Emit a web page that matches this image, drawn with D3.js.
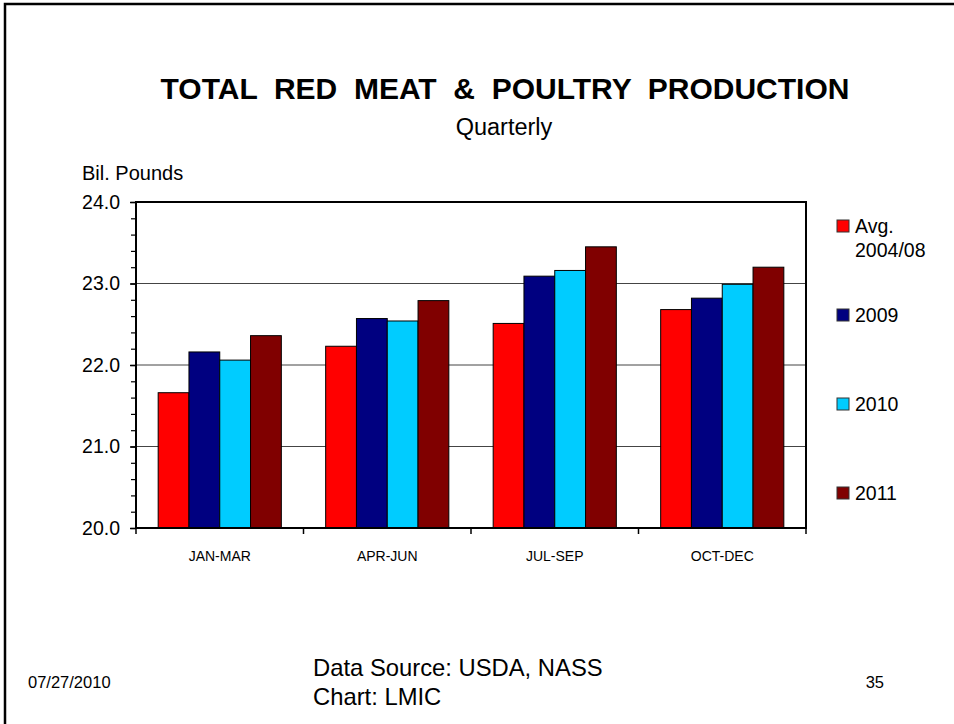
<!DOCTYPE html>
<html>
<head>
<meta charset="utf-8">
<script src="https://cdn.jsdelivr.net/npm/d3@7/dist/d3.min.js"></script>
<style>
  html, body { margin: 0; padding: 0; background: #fff; }
  svg { display: block; font-family: Arial, "Liberation Sans", sans-serif; }
</style>
</head>
<body>
<div id="chartContainer"></div>
<script>
/* quarterly red meat & poultry production chart */

const quarters = ["JAN-MAR", "APR-JUN", "JUL-SEP", "OCT-DEC"];
const seriesNames = ["Avg. 2004/08", "2009", "2010", "2011"];
const avg0408 = [21.66, 22.23, 22.51, 22.68];
const y2009 = [22.16, 22.57, 23.09, 22.82];
const y2010 = [22.06, 22.54, 23.16, 22.99];
const y2011 = [22.36, 22.79, 23.45, 23.20];
const yTicks = [20, 21, 22, 23, 24];
const seriesColors = ["#ff0000", "#000080", "#00ccff", "#800000"];

(() => {
  'use strict';

  const size = { width: 954, height: 724 };
  const margin = { top: 202, right: 148, bottom: 196, left: 136 };
  const width = size.width - margin.left - margin.right;
  const height = size.height - margin.top - margin.bottom;

  const values = [avg0408, y2009, y2010, y2011];

  const svg = d3.select("#chartContainer")
    .append("svg")
    .attr("width", size.width)
    .attr("height", size.height);

  // slide frame, runs off the right and bottom edges
  svg.append("rect")
    .attr("x", 5)
    .attr("y", 4)
    .attr("width", 1000)
    .attr("height", 800)
    .style("fill", "none")
    .style("stroke", "#000")
    .style("stroke-width", 2.5);

  svg.append("text")
    .attr("x", 505)
    .attr("y", 99)
    .attr("text-anchor", "middle")
    .attr("xml:space", "preserve")
    .style("font-size", "30px")
    .style("font-weight", "bold")
    .style("white-space", "pre")
    .text("TOTAL  RED  MEAT  &  POULTRY  PRODUCTION");

  svg.append("text")
    .attr("x", 504)
    .attr("y", 135)
    .attr("text-anchor", "middle")
    .style("font-size", "23.5px")
    .text("Quarterly");

  svg.append("text")
    .attr("x", 82)
    .attr("y", 180)
    .style("font-size", "20px")
    .text("Bil. Pounds");

  const x0 = d3.scaleBand()
    .domain(quarters)
    .range([0, width]);

  const x1 = d3.scaleBand()
    .domain(seriesNames)
    .range([0, x0.bandwidth()])
    .paddingOuter(0.72);

  const yScale = d3.scaleLinear()
    .domain([20, 24])
    .range([height, 0]);

  const graph = svg.append("g")
    .attr("transform", "translate(" + margin.left + "," + margin.top + ")");

  // horizontal grid
  graph.append("g")
    .selectAll("line")
    .data(yTicks.slice(1, -1))
    .join("line")
    .attr("x1", 0)
    .attr("x2", width)
    .attr("y1", d => yScale(d))
    .attr("y2", d => yScale(d))
    .style("stroke", "#444")
    .style("stroke-width", 1);

  const groups = graph.append("g")
    .selectAll("g")
    .data(quarters)
    .join("g")
    .attr("transform", d => "translate(" + x0(d) + ",0)");

  groups.selectAll("rect")
    .data((q, qi) => seriesNames.map((s, si) => ({ s: s, si: si, v: values[si][qi] })))
    .join("rect")
    .attr("x", d => x1(d.s))
    .attr("y", d => yScale(d.v))
    .attr("width", x1.bandwidth())
    .attr("height", d => height - yScale(d.v))
    .style("fill", d => seriesColors[d.si])
    .style("stroke", "#000")
    .style("stroke-width", 1);

  // minor ticks on the value axis
  const yMinor = d3.axisLeft(yScale)
    .tickValues(d3.range(20, 24.01, 0.2))
    .tickSize(5)
    .tickFormat("");

  graph.append("g")
    .call(yMinor)
    .call(g => g.select(".domain").remove())
    .call(g => g.selectAll("line").style("stroke", "#000").style("stroke-width", 1.2));

  const yAxis = d3.axisLeft(yScale)
    .tickValues(yTicks)
    .tickSize(6)
    .tickPadding(10)
    .tickFormat(d3.format(".1f"));

  graph.append("g")
    .attr("class", "y axis")
    .call(yAxis)
    .call(g => g.select(".domain").remove())
    .call(g => g.selectAll("line").style("stroke", "#000").style("stroke-width", 1.5))
    .call(g => g.selectAll("text")
      .style("font-family", "Arial, 'Liberation Sans', sans-serif")
      .style("font-size", "19.5px")
      .style("fill", "#000"));

  const xAxis = d3.axisBottom(x0)
    .tickSize(0)
    .tickPadding(23);

  graph.append("g")
    .attr("class", "x axis")
    .attr("transform", "translate(0," + height + ")")
    .call(xAxis)
    .call(g => g.select(".domain").remove())
    .call(g => g.selectAll("text")
      .style("font-family", "Arial, 'Liberation Sans', sans-serif")
      .style("font-size", "14px")
      .style("fill", "#000"));

  // category separators below the axis
  graph.append("g")
    .selectAll("line")
    .data(quarters.concat([null]))
    .join("line")
    .attr("x1", (d, i) => i * x0.step())
    .attr("x2", (d, i) => i * x0.step())
    .attr("y1", height)
    .attr("y2", height + 6)
    .style("stroke", "#000")
    .style("stroke-width", 1.5);

  // plot frame
  graph.append("rect")
    .attr("width", width)
    .attr("height", height)
    .style("fill", "none")
    .style("stroke", "#000")
    .style("stroke-width", 2);

  // legend
  const legend = svg.append("g")
    .attr("transform", "translate(837,220)");

  const legendLabels = [["Avg.", "2004/08"], ["2009"], ["2010"], ["2011"]];

  const items = legend.selectAll("g")
    .data(seriesNames)
    .join("g")
    .attr("transform", (d, i) => "translate(0," + (i * 89) + ")");

  items.append("rect")
    .attr("width", 12)
    .attr("height", 12)
    .style("fill", (d, i) => seriesColors[i])
    .style("stroke", "#333")
    .style("stroke-width", 1);

  items.append("text")
    .attr("x", 18)
    .attr("y", 13)
    .style("font-size", "19.5px")
    .selectAll("tspan")
    .data((d, i) => legendLabels[i])
    .join("tspan")
    .attr("x", 18)
    .attr("dy", (d, i) => i === 0 ? 0 : 24)
    .text(d => d);

  // footer
  svg.append("text")
    .attr("x", 28)
    .attr("y", 688)
    .style("font-size", "16.5px")
    .text("07/27/2010");

  svg.append("text")
    .attr("x", 313)
    .attr("y", 676)
    .style("font-size", "23.8px")
    .selectAll("tspan")
    .data(["Data Source: USDA, NASS", "Chart: LMIC"])
    .join("tspan")
    .attr("x", 313)
    .attr("dy", (d, i) => i === 0 ? 0 : 29)
    .text(d => d);

  svg.append("text")
    .attr("x", 884)
    .attr("y", 688)
    .attr("text-anchor", "end")
    .style("font-size", "16.5px")
    .text("35");
})();
</script>
</body>
</html>
